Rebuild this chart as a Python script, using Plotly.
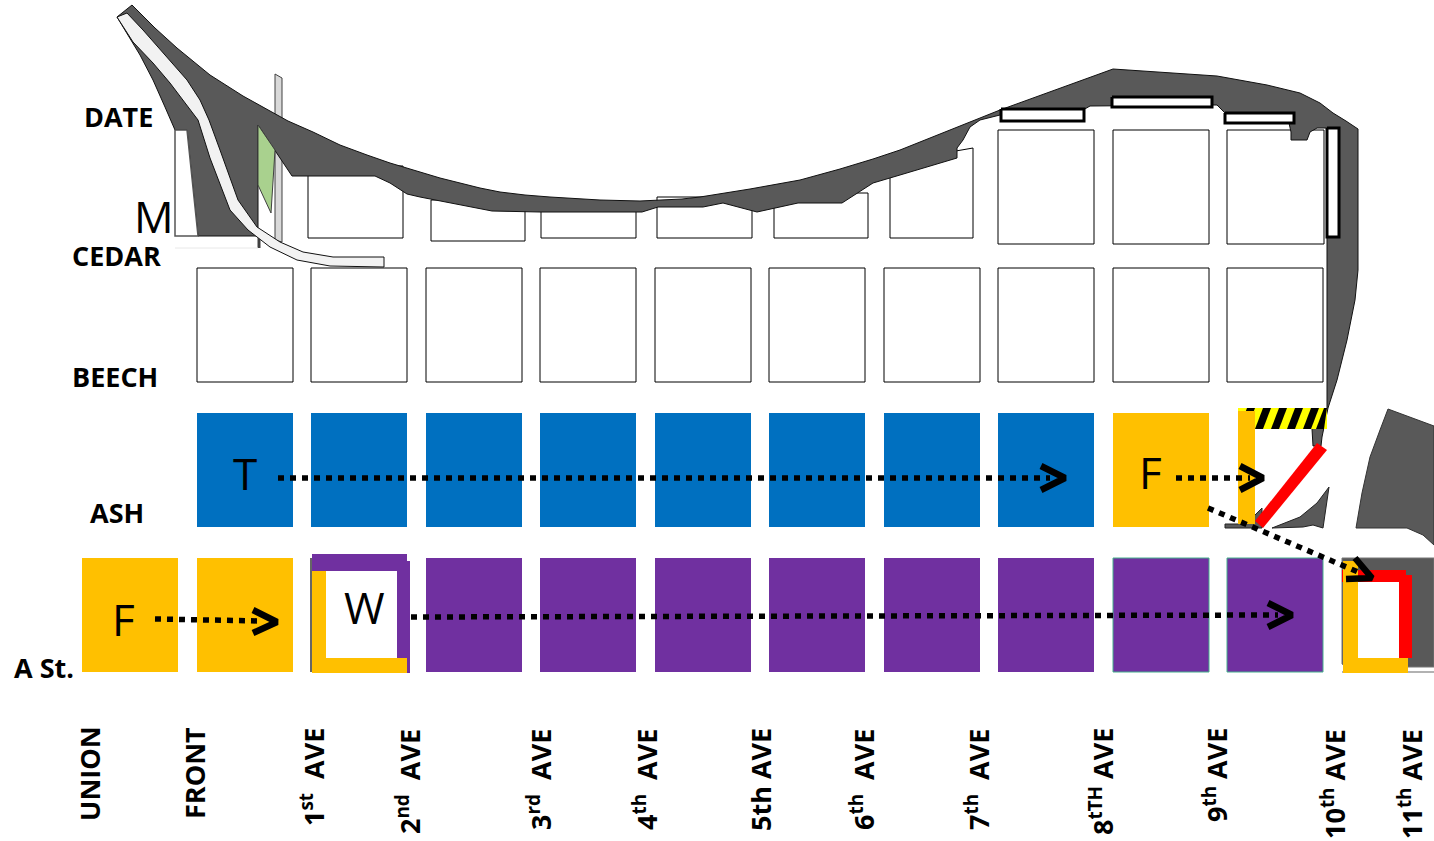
import plotly.graph_objects as go

# ---- street grid (map units = picture pixels) ----
avenue_left = [197, 311, 426, 540, 655, 769, 884, 998, 1113, 1227]
block_width = 96
beech_top, beech_bottom = 268, 382
ash_top, ash_bottom = 413, 527
a_top, a_bottom = 558, 672

# upper row blocks: left, right, top, bottom
upper_blocks = [(308, 403, 166, 238), (431, 525, 200, 241), (541, 636, 205, 238),
                (657, 752, 197, 238), (774, 868, 193, 238), (998, 1094, 130, 244),
                (1113, 1209, 130, 244), (1227, 1324, 130, 244)]
slant_block = [(890, 238), (973, 238), (973, 148), (950, 152), (890, 175)]

# ash row uses: blue up to 8th, then yellow
ash_blue = [197, 311, 426, 540, 655, 769, 884, 998]
ash_yellow = [1113]
a_yellow = [82, 197]
a_purple = [426, 540, 655, 769, 884, 998]
a_purple_green = [1113, 1227]

land_top = [(132, 5), (155, 28), (177, 48), (210, 75), (243, 96), (270, 111), (288, 121), (313, 132),
            (340, 145), (367, 155), (390, 163), (420, 172), (440, 178), (460, 183), (480, 188), (500, 192),
            (525, 195), (550, 197), (600, 200), (640, 201), (682, 199), (700, 197), (750, 189), (800, 180),
            (840, 169), (873, 159), (900, 150), (950, 130), (1000, 110), (1113, 69), (1160, 72), (1217, 76),
            (1267, 85), (1300, 93), (1320, 103), (1333, 113), (1346, 121), (1358, 129)]
land_right = [(1358, 270), (1355, 300), (1347, 340), (1337, 380), (1328, 408), (1322, 437), (1321, 446),
              (1313, 446), (1312, 429), (1327, 408), (1327, 128)]
land_under = [(1317, 128), (1310, 132), (1307, 140), (1291, 140), (1291, 132), (1289, 123),
              (1225, 122), (1225, 113), (1217, 105), (1212, 105), (1090, 106), (1083, 110),
              (1000, 115), (980, 120), (970, 127), (963, 140), (957, 148), (957, 158), (950, 160),
              (900, 175), (873, 183), (842, 203), (798, 203), (757, 212), (723, 203), (703, 207),
              (658, 207), (642, 212), (540, 212), (492, 211), (420, 197), (407, 194), (390, 183), (375, 176),
              (292, 176), (275, 150), (258, 125), (258, 236), (198, 236), (187, 130), (175, 130),
              (165, 107), (153, 80), (140, 55), (117, 17)]

land_east = [(1388, 409), (1434, 426), (1434, 545), (1423, 535), (1407, 528), (1356, 528),
             (1362, 493), (1370, 457), (1380, 430)]
land_south = [(1342, 558), (1434, 558), (1434, 667), (1346, 667), (1342, 664)]
sliver_a = [(1272, 528), (1300, 517), (1317, 503), (1329, 487), (1323, 528), (1313, 525), (1303, 527)]
sliver_b = [(1225, 524), (1238, 524), (1255, 515), (1262, 508), (1262, 528), (1225, 528)]

rail_strip = [(117, 17), (127, 13), (143, 30), (170, 60), (187, 80), (200, 100), (209, 120), (220, 150),
              (230, 177), (238, 200), (257, 227), (280, 242), (303, 252), (333, 257), (384, 257),
              (384, 267), (330, 266), (297, 260), (270, 247), (248, 230), (230, 210), (220, 185),
              (210, 158), (198, 120), (185, 103), (170, 83), (153, 63), (133, 42)]
gray_bar = [(275, 74), (282, 78), (282, 242), (275, 240)]
green_lot = [(258, 125), (275, 150), (271, 213), (258, 185)]
m_building = [(175, 130), (187, 130), (198, 236), (175, 236)]

piers = [(1001, 1084, 109, 121), (1112, 1212, 97, 107), (1225, 1294, 113, 123), (1327, 1339, 128, 237)]

hazard_box = (1238, 1327, 408, 429)
hazard_stripes_bottom = [1239, 1255, 1271, 1287, 1303, 1316]
hazard_slant = 8
hazard_stripe_w = 8
red_diagonal = [(1255, 521), (1263, 528), (1327, 450), (1317, 443)]

# coloured outlines around stations: left, right, top, bottom, colour key
w_bars = [(312, 407, 554, 571, 'p'), (397, 410, 561, 673, 'p'),
          (312, 326, 571, 673, 'y'), (314, 407, 658, 673, 'y')]
end_bars = [(1342, 1406, 570, 582, 'r'), (1399, 1412, 575, 658, 'r'),
            (1343, 1358, 561, 673, 'y'), (1343, 1408, 658, 673, 'y')]
ash_bar = [(1238, 1255, 411, 524, 'y')]
w_window = (326, 397, 571, 658)
end_window = (1358, 1399, 582, 658)

arrows = [  # line start, line end, head point 1, tip, head point 2
    ((278, 478), (1050, 478), (1041, 466), (1065, 478), (1041, 490)),
    ((1176, 478), (1250, 478), (1240, 466), (1263, 478), (1240, 490)),
    ((1208, 508), (1358, 572), (1355, 558), (1372, 578), (1346, 579)),
    ((411, 617), (1278, 615), (1268, 603), (1292, 615), (1268, 627)),
    ((155, 619), (262, 621), (253, 610), (277, 622), (253, 633)),
]

street_labels = [('DATE', 118, 116), ('CEDAR', 116, 255), ('BEECH', 115, 376), ('ASH', 117, 512), ('A St.', 44, 667)]
avenue_labels = [('UNION', 89, 774), ('FRONT', 194, 773),
                 ('1<sup>st</sup>\u00a0\u00a0AVE', 312, 777), ('2<sup>nd</sup>\u00a0\u00a0AVE', 408, 782),
                 ('3<sup>rd</sup>\u00a0\u00a0AVE', 539, 780), ('4<sup>th</sup>\u00a0\u00a0AVE', 645, 780),
                 ('5th\u00a0AVE', 760, 780), ('6<sup>th</sup>\u00a0\u00a0AVE', 862, 780),
                 ('7<sup>th</sup>\u00a0\u00a0AVE', 977, 780), ('8<sup>tTH</sup>\u00a0AVE', 1101, 782),
                 ('9<sup>th</sup>\u00a0AVE', 1215, 775), ('10<sup>th</sup>\u00a0AVE', 1333, 784),
                 ('11<sup>th</sup>\u00a0AVE', 1410, 784)]
block_letters = [('T', 245, 473), ('F', 1150, 472), ('F', 123, 619), ('W', 364, 607), ('M', 154, 216)]

BLUE, PURPLE, YELLOW, RED = '#0070c0', '#7030a0', '#ffc000', '#ff0000'
DARK = '#595959'
KEY = {'p': PURPLE, 'y': YELLOW, 'r': RED}
FONT = 'Open Sans'

fig = go.Figure()


def poly(points, fill, line='rgba(0,0,0,0)', width=1):
    xs = [p[0] for p in points] + [points[0][0]]
    ys = [p[1] for p in points] + [points[0][1]]
    fig.add_trace(go.Scatter(x=xs, y=ys, mode='lines', fill='toself', fillcolor=fill,
                             line=dict(color=line, width=width), hoverinfo='skip', showlegend=False))


def box(l, r, t, b, fill, line='rgba(0,0,0,0)', width=1):
    poly([(l, t), (r, t), (r, b), (l, b)], fill, line, width)


def path(points, width=2, dash='solid', color='black'):
    fig.add_trace(go.Scatter(x=[p[0] for p in points], y=[p[1] for p in points], mode='lines',
                             line=dict(color=color, width=width, dash=dash), hoverinfo='skip', showlegend=False))


# background pieces beneath the land
poly(gray_bar, '#d9d9d9', '#404040', 1)
for l, r, t, b in upper_blocks:
    box(l, r, t, b, 'white', 'black', 1)
poly(slant_block, 'white', 'black', 1)
for x in avenue_left:
    box(x, x + block_width, beech_top, beech_bottom, 'white', 'black', 1)

# land
poly(land_top + land_right + land_under, DARK, '#111111', 1)
poly(land_east, DARK, '#333333', 1)
poly(sliver_a, DARK, '#222222', 1)
poly(sliver_b, DARK, '#222222', 1)
poly(land_south, DARK, '#777777', 1)
path([(1342, 672), (1434, 672)], 1.5, color='#999999')
path([(259, 236), (259, 248)], 3, color='#404040')
path([(175, 248), (258, 248)], 1, color='#e8e8e8')

poly(m_building, 'white', '#555555', 1.5)
poly(rail_strip, '#f2f2f2', '#111111', 1)
poly(green_lot, '#a9d18e', '#404040', 1)
for l, r, t, b in piers:
    box(l, r, t, b, 'white', 'black', 3)

# station blocks
for x in ash_blue:
    box(x, x + block_width, ash_top, ash_bottom, BLUE)
for x in ash_yellow:
    box(x, x + block_width, ash_top, ash_bottom, YELLOW)
for x in a_yellow:
    box(x, x + block_width, a_top, a_bottom, YELLOW)
for x in a_purple:
    box(x, x + block_width, a_top, a_bottom, PURPLE)
for x in a_purple_green:
    box(x, x + block_width, a_top, a_bottom, PURPLE, '#45b08c', 1)

# hazard bar
l, r, t, b = hazard_box
box(l, r, t, b, '#ffff00')
for x in hazard_stripes_bottom:
    poly([(x, b), (x + hazard_slant, t), (min(x + hazard_slant + hazard_stripe_w, r), t),
          (min(x + hazard_stripe_w, r), b)], 'black')
poly(red_diagonal, RED)

# coloured bars
path([(311, 558), (311, 672)], 1.5, color='#333333')
for l, r, t, b, k in ash_bar + w_bars + end_bars:
    box(l, r, t, b, KEY[k])
box(*w_window, 'white')
box(*end_window, 'white')

# arrows
for start, end, h1, tip, h2 in arrows:
    path([start, end], 5.5, dash='6px,6px')
    path([h1, tip, h2], 6.5)

for txt, x, y in street_labels:
    fig.add_annotation(x=x, y=y, text=f'<b>{txt}</b>', showarrow=False, xanchor='center', yanchor='middle',
                       font=dict(family=FONT, size=27, color='black'))
for txt, x, y in avenue_labels:
    fig.add_annotation(x=x, y=y, text=f'<b>{txt}</b>', showarrow=False, textangle=-90, xanchor='center',
                       yanchor='middle', font=dict(family=FONT, size=27, color='black'))
for txt, x, y in block_letters:
    fig.add_annotation(x=x, y=y, text=txt, showarrow=False, xanchor='center', yanchor='middle',
                       font=dict(family=FONT, size=44, color='black'))

fig.update_layout(width=1434, height=841, margin=dict(l=0, r=0, t=0, b=0), paper_bgcolor='white',
                  plot_bgcolor='white', showlegend=False,
                  xaxis=dict(range=[0, 1434], visible=False, fixedrange=True),
                  yaxis=dict(range=[841, 0], visible=False, fixedrange=True))
fig.write_html('out.html', config={'displayModeBar': False},
               post_script="document.body.style.margin='0';document.body.style.overflow='hidden';")
